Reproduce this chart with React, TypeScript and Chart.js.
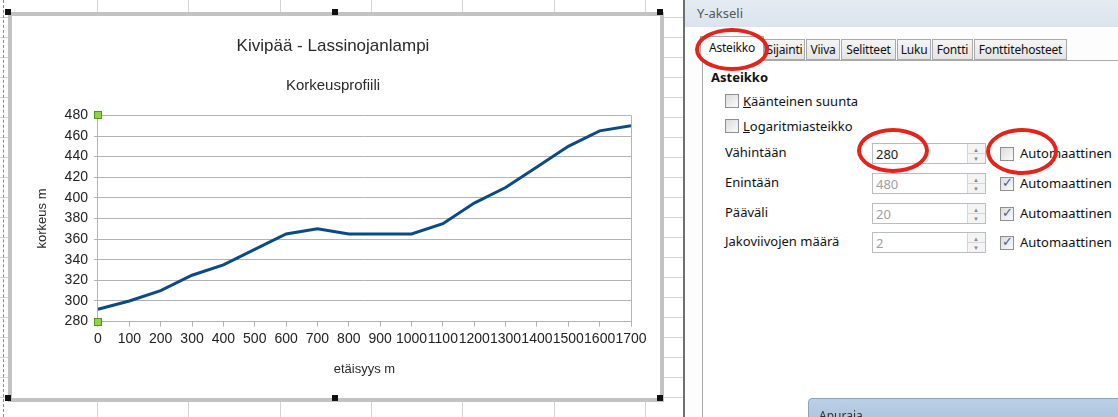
import React, { useEffect, useRef } from "react";
import { Chart, registerables } from "chart.js";

Chart.register(...registerables);

// ---- data ----
const distances = [0, 100, 200, 300, 400, 500, 600, 700, 800, 900, 1000, 1100, 1200, 1300, 1400, 1500, 1600, 1700];
const elevations = [292, 300, 310, 325, 335, 350, 365, 370, 365, 365, 365, 375, 395, 410, 430, 450, 465, 470];
const yMin = 280;
const yMax = 480;
const yStep = 20;
const xMin = 0;
const xMax = 1700;
const xStep = 100;
const chartTitle = "Kivipää - Lassinojanlampi";
const chartSubtitle = "Korkeusprofiili";
const xAxisTitle = "etäisyys m";
const yAxisTitle = "korkeus m";

const tabLabels = ["Asteikko", "Sijainti", "Viiva", "Selitteet", "Luku", "Fontti", "Fonttitehosteet"];
const tabWidths = [62, 42, 35, 56, 35, 42, 94];

const FONT = "'Liberation Sans', Arial, sans-serif";
const UI_FONT = "'Noto Sans', 'Open Sans', sans-serif";

const handlesPlugin = {
  id: "handles",
  afterDraw(chart: any) {
    const ctx = chart.ctx;
    const x = chart.scales.x.left;
    const ys = [chart.scales.y.getPixelForValue(yMax), chart.scales.y.getPixelForValue(yMin)];
    ctx.save();
    ys.forEach((y: number) => {
      ctx.fillStyle = "#8fd43f";
      ctx.strokeStyle = "#4f9a16";
      ctx.lineWidth = 1;
      ctx.fillRect(Math.round(x) - 3.5, Math.round(y) - 3.5, 7, 7);
      ctx.strokeRect(Math.round(x) - 3.5, Math.round(y) - 3.5, 7, 7);
    });
    ctx.restore();
  },
};

function ProfileChart() {
  const ref = useRef<HTMLCanvasElement | null>(null);
  useEffect(() => {
    if (!ref.current) return;
    const chart = new Chart(ref.current, {
      type: "line",
      data: {
        datasets: [
          {
            data: distances.map((d, i) => ({ x: d, y: elevations[i] })),
            borderColor: "#0c4a86",
            borderWidth: 3,
            pointRadius: 0,
            tension: 0,
            fill: false,
          },
        ],
      },
      options: {
        animation: false,
        responsive: false,
        maintainAspectRatio: false,
        layout: { padding: { left: 23, right: 29, top: 0, bottom: 21 } },
        plugins: {
          legend: { display: false },
          tooltip: { enabled: false },
          title: {
            display: true,
            text: chartTitle,
            color: "#2a2a2a",
            font: { family: FONT, size: 17, weight: "normal" },
            padding: { top: 20, bottom: 8 },
          },
          subtitle: {
            display: true,
            text: chartSubtitle,
            color: "#2a2a2a",
            font: { family: FONT, size: 15, weight: "normal" },
            padding: { top: 12, bottom: 21 },
          },
        },
        scales: {
          x: {
            type: "linear",
            min: xMin,
            max: xMax,
            ticks: {
              stepSize: xStep,
              color: "#222",
              font: { family: FONT, size: 14 },
              maxRotation: 0,
              autoSkip: false,
              padding: 4,
              callback: (v: any) => String(v),
            },
            grid: {
              color: (c: any) => (c.tick && c.tick.value === xMax ? "#b3b3b3" : "rgba(0,0,0,0)"),
              tickColor: "#b3b3b3",
              tickLength: 5,
              drawTicks: true,
            },
            border: { display: true, color: "#b3b3b3" },
            title: {
              display: true,
              text: xAxisTitle,
              color: "#2a2a2a",
              font: { family: FONT, size: 13 },
              padding: { top: 10, bottom: 0 },
            },
          },
          y: {
            type: "linear",
            min: yMin,
            max: yMax,
            ticks: {
              stepSize: yStep,
              color: "#222",
              font: { family: FONT, size: 14 },
              padding: 6,
              callback: (v: any) => String(v),
            },
            grid: {
              color: "#b3b3b3",
              tickColor: "#b3b3b3",
              tickLength: 4,
            },
            border: { display: true, color: "#b3b3b3" },
            title: {
              display: true,
              text: yAxisTitle,
              color: "#2a2a2a",
              font: { family: FONT, size: 13 },
              padding: { top: 0, bottom: 8 },
            },
          },
        },
      },
      plugins: [handlesPlugin],
    } as any);
    return () => chart.destroy();
  }, []);
  return <canvas ref={ref} width={648} height={382} style={{ position: "absolute", left: 12, top: 16, width: 648, height: 382 }} />;
}

function CheckBox({ checked, x, y }: { checked: boolean; x: number; y: number }) {
  return (
    <div
      style={{
        position: "absolute",
        left: x,
        top: y,
        width: 12,
        height: 12,
        border: "1px solid #8e8f8f",
        background: "linear-gradient(135deg, #dcdcdc, #fafafa)",
        boxSizing: "content-box",
      }}
    >
      {checked ? (
        <div style={{ position: "absolute", left: 1, top: -3, fontSize: 13, color: "#3d5d9c", fontWeight: 700, fontFamily: "DejaVu Sans" }}>✓</div>
      ) : null}
    </div>
  );
}

function SpinBox({ value, x, y, disabled }: { value: string; x: number; y: number; disabled: boolean }) {
  return (
    <div
      style={{
        position: "absolute",
        left: x,
        top: y,
        width: 114,
        height: 21,
        border: "1px solid #b9bcc1",
        background: "#fff",
        boxSizing: "border-box",
        fontFamily: UI_FONT,
        fontSize: 13,
        color: disabled ? "#a0a0a0" : "#222",
      }}
    >
      <span style={{ position: "absolute", left: 3, top: 1 }}>{value}</span>
      <div style={{ position: "absolute", right: 0, top: 0, width: 17, height: 19, borderLeft: "1px solid #d6d6d6", background: "#f4f4f4" }}>
        <div style={{ position: "absolute", left: 0, right: 0, top: 9, height: 1, background: "#d6d6d6" }} />
        <div style={{ position: "absolute", left: 5, top: 2, fontSize: 6, color: "#888" }}>▲</div>
        <div style={{ position: "absolute", left: 5, top: 11, fontSize: 6, color: "#888" }}>▼</div>
      </div>
    </div>
  );
}

export default function App() {
  const gridV = [97, 188, 280, 371, 462, 554, 645];
  const gridH = [17, 37, 57, 77, 97, 117, 137, 157, 177, 197, 217, 237, 257, 277, 297, 317, 337, 357, 377, 397];
  const rows = [
    { label: "Vähintään", value: "280", disabled: false, checked: false, y: 143 },
    { label: "Enintään", value: "480", disabled: true, checked: true, y: 173 },
    { label: "Pääväli", value: "20", disabled: true, checked: true, y: 203 },
    { label: "Jakoviivojen määrä", value: "2", disabled: true, checked: true, y: 232 },
  ];
  let tx = 702;
  return (
    <div style={{ position: "fixed", left: 0, top: 0, width: 1118, height: 417, background: "#fff", overflow: "hidden" }}>
      {/* spreadsheet grid */}
      {gridV.map((x) => (
        <div key={"v" + x} style={{ position: "absolute", left: x, top: 0, width: 1, height: 417, background: "#d4d4d4" }} />
      ))}
      {gridH.map((y) => (
        <div key={"h" + y} style={{ position: "absolute", left: 0, top: y, width: 683, height: 1, background: "#d4d4d4" }} />
      ))}
      <div style={{ position: "absolute", left: 3, top: 0, width: 0, height: 417, borderLeft: "1px dashed #6a8fc0" }} />
      {/* chart frame */}
      <div style={{ position: "absolute", left: 8, top: 12, width: 656, height: 390, background: "#fff", border: "4px solid #c3c3c3", boxSizing: "border-box" }} />
      <ProfileChart />
      {[
        [8, 12],
        [335, 12],
        [660, 12],
        [8, 398],
        [335, 398],
        [660, 398],
      ].map(([x, y]) => (
        <div key={x + "-" + y} style={{ position: "absolute", left: x - 3, top: y - 3, width: 6, height: 6, background: "#111" }} />
      ))}
      {/* dialog */}
      <div style={{ position: "absolute", left: 683, top: 0, width: 435, height: 417, background: "#fdfdfd", borderLeft: "2px solid #6d6f72", boxSizing: "border-box" }} />
      <div style={{ position: "absolute", left: 685, top: 0, width: 433, height: 27, background: "linear-gradient(#e4ebf3, #dbe4ee)" }} />
      <div style={{ position: "absolute", left: 697, top: 4, fontFamily: UI_FONT, fontSize: 13, color: "#555" }}>Y-akseli</div>
      <div style={{ position: "absolute", left: 702, top: 60, width: 430, height: 370, border: "1px solid #a9a9a9", background: "#fff", boxSizing: "border-box" }} />
      {tabLabels.map((t, i) => {
        const left = tx;
        tx += tabWidths[i];
        const sel = i === 0;
        return (
          <div
            key={t}
            style={{
              position: "absolute",
              left: sel ? left - 2 : left,
              top: sel ? 36 : 39,
              width: sel ? tabWidths[i] + 2 : tabWidths[i] - 1,
              height: sel ? 25 : 21,
              border: "1px solid #a9a9a9",
              borderBottom: sel ? "none" : "1px solid #a9a9a9",
              background: sel ? "#fff" : "linear-gradient(#f5f5f5, #e4e4e4)",
              boxSizing: "border-box",
              fontFamily: UI_FONT,
              fontSize: 12,
              color: "#111",
              textAlign: "center",
              lineHeight: sel ? "22px" : "19px",
              whiteSpace: "nowrap",
              overflow: "hidden",
              letterSpacing: -0.2,
            }}
          >
            {t}
          </div>
        );
      })}
      <div style={{ position: "absolute", left: 711, top: 68, fontFamily: UI_FONT, fontSize: 13, fontWeight: 700, color: "#111" }}>Asteikko</div>
      <CheckBox checked={false} x={725} y={94} />
      <div style={{ position: "absolute", left: 743, top: 92, fontFamily: UI_FONT, fontSize: 13, color: "#111" }}>
        <u>K</u>äänteinen suunta
      </div>
      <CheckBox checked={false} x={725} y={119} />
      <div style={{ position: "absolute", left: 743, top: 117, fontFamily: UI_FONT, fontSize: 13, color: "#111" }}>
        <u>L</u>ogaritmiasteikko
      </div>
      {rows.map((r) => (
        <React.Fragment key={r.label}>
          <div style={{ position: "absolute", left: 725, top: r.y, fontFamily: UI_FONT, fontSize: 13, color: "#111" }}>{r.label}</div>
          <SpinBox value={r.value} x={872} y={r.y} disabled={r.disabled} />
          <CheckBox checked={r.checked} x={1000} y={r.y + 4} />
          <div style={{ position: "absolute", left: 1020, top: r.y + 1, fontFamily: UI_FONT, fontSize: 13, color: "#111" }}>Automaattinen</div>
        </React.Fragment>
      ))}
      {/* bottom window */}
      <div style={{ position: "absolute", left: 808, top: 398, width: 320, height: 30, background: "linear-gradient(#bcd0e6, #a9c1dc)", border: "1px solid #8aa2c0", borderRadius: 4, boxSizing: "border-box", overflow: "hidden" }}>
        <div style={{ position: "absolute", left: 10, top: 8, fontFamily: UI_FONT, fontSize: 12, color: "#333" }}>Apuraja</div>
      </div>
      {/* red circles */}
      <div style={{ position: "absolute", left: 695, top: 28, width: 74, height: 43, border: "4px solid #e3241c", borderRadius: "50%", boxSizing: "border-box" }} />
      <div style={{ position: "absolute", left: 857, top: 128, width: 72, height: 45, border: "4px solid #e3241c", borderRadius: "50%", boxSizing: "border-box" }} />
      <div style={{ position: "absolute", left: 986, top: 128, width: 72, height: 47, border: "4px solid #e3241c", borderRadius: "50%", boxSizing: "border-box" }} />
    </div>
  );
}
